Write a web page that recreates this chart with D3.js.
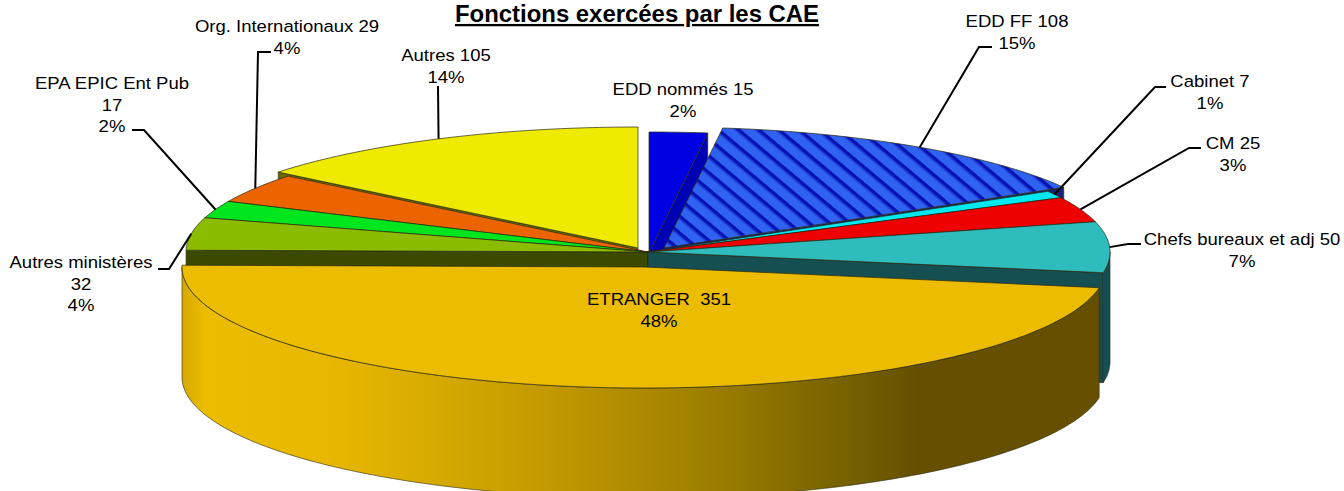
<!DOCTYPE html>
<html>
<head>
<meta charset="utf-8">
<title>Fonctions exercées par les CAE</title>
<script src="https://cdnjs.cloudflare.com/ajax/libs/d3/7.8.5/d3.min.js"></script>
<style>
body { margin:0; background:#fff; }
text { font-family:"Liberation Sans",Arial,sans-serif; fill:#000; white-space:pre; }
</style>
</head>
<body>
<script>
// data, clockwise from the top of the pie
var categories = ["EDD nommés","EDD FF","Cabinet","CM","Chefs bureaux et adj","ETRANGER","Autres ministères","EPA EPIC Ent Pub","Org. Internationaux","Autres"];
var values = [15,108,7,25,50,351,32,17,29,105];
var percents = [2,15,1,3,7,48,4,2,4,14];

// look of the slices
var topColors = ["#0000e2","url(#hatch)","#00e8f0","#ee0000","#2fbcbc","#ecbc00","#8cbc00","#00e61e","#ec6400","#eeea00"];
var faceColors = ["#0000b4","#14246e","#007a80","#800000","#164f52","#6a5200","#3c4a00","#007a10","#803600","#6b6b00"];
var offsetX = [1,16,0,0,0,-4,0,0,0,-10];
var offsetY = [1,-4,0,0,0,15,0,0,0,-4];
var drawOrder = [9,0,1,8,7,6,2,3,4,5];

// label placement: centre x, first baseline, lines, elbow of the leader
var labelLines = [
	["EDD nommés 15","2%"],["EDD FF 108","15%"],["Cabinet 7","1%"],["CM 25","3%"],
	["Chefs bureaux et adj 50","7%"],["ETRANGER  351","48%"],["Autres ministères","32","4%"],
	["EPA EPIC Ent Pub","17","2%"],["Org. Internationaux 29","4%"],["Autres 105","14%"]
];
var labelX = [683,1017,1210,1233,1242,659,81,112,287,446];
var labelY = [95,27,87,149,245,305,268,89,32,61];
var leaders = [
	null,
	[[992,47],[979,47]],
	[[1166,87],[1155,87]],
	[[1201,148],[1189,148]],
	[[1141,244],[1128,244]],
	null,
	[[158,269],[169,269]],
	[[132,130],[144,130]],
	[[271,52],[258,52]],
	[[438,86]]
];

var w = 1344;
var h = 491;
var cx = 648;
var cy = 252;
var rx = 462;
var ry = 121;
var depth = 110;
var lineH = 21.5;

var svg = d3.select("body").append("svg")
	.attr("width",w)
	.attr("height",h)
	.style("display","block");

var defs = svg.append("defs");

var hatch = defs.append("pattern")
	.attr("id","hatch")
	.attr("patternUnits","userSpaceOnUse")
	.attr("width",13)
	.attr("height",13)
	.attr("patternTransform","rotate(40)");
hatch.append("rect").attr("width",13).attr("height",13).attr("fill","#2f62f0");
hatch.append("rect").attr("width",13).attr("height",3).attr("fill","#0612b4");
hatch.append("rect").attr("y",3).attr("width",13).attr("height",1.5).attr("fill","#1a38d0");

var wallGrad = defs.append("linearGradient")
	.attr("id","wall")
	.attr("gradientUnits","userSpaceOnUse")
	.attr("x1",181).attr("x2",1100).attr("y1",0).attr("y2",0);
[[0,"#d4a800"],[0.025,"#ecbc00"],[0.16,"#e8b800"],[0.29,"#d4a800"],[0.39,"#c49a00"],[0.565,"#a08000"],[0.73,"#756000"],[0.8,"#665000"],[1,"#665000"]].forEach(function(s){
	wallGrad.append("stop").attr("offset",s[0]).attr("stop-color",s[1]);
});

var pie = d3.pie().sort(null).value(function(d){ return d; });
var arcs = pie(values);

var line = d3.line();

function rim(i,a,dy){
	return [cx + offsetX[i] + Math.sin(a)*rx, cy + offsetY[i] - Math.cos(a)*ry + (dy||0)];
}
function centre(i,dy){
	return [cx + offsetX[i], cy + offsetY[i] + (dy||0)];
}
function rimPoints(i,a0,a1,dy){
	var n = Math.max(2,Math.ceil((a1-a0)*60));
	return d3.range(n+1).map(function(k){ return rim(i,a0+(a1-a0)*k/n,dy); });
}
// flat face from the centre to the rim at angle a, seen when it looks towards us
function cutFace(i,a){
	return line([centre(i),rim(i,a),rim(i,a,depth),centre(i,depth)]) + "Z";
}

var strokeCol = "#2a2a10";

drawOrder.forEach(function(i){
	var d = arcs[i];
	var g = svg.append("g").attr("class","slice");
	var a0 = d.startAngle, a1 = d.endAngle;

	// cut faces: the left half shows its start edge, the right half its end edge
	if(a1 < Math.PI){
		g.append("path").attr("d",cutFace(i,a1)).attr("fill",faceColors[i]).attr("stroke",strokeCol).attr("stroke-width",0.6);
	}
	if(a0 > Math.PI){
		g.append("path").attr("d",cutFace(i,a0)).attr("fill",faceColors[i]).attr("stroke",strokeCol).attr("stroke-width",0.6);
	}

	// outer wall, only the front half of the rim
	var w0 = Math.max(a0,Math.PI/2), w1 = Math.min(a1,Math.PI*1.5);
	if(w1 > w0){
		var top = rimPoints(i,w0,w1,0);
		var bottom = rimPoints(i,w0,w1,depth).reverse();
		g.append("path")
			.attr("d",line(top.concat(bottom)) + "Z")
			.attr("fill", i == 5 ? "url(#wall)" : faceColors[i])
			.attr("stroke",strokeCol).attr("stroke-width",0.6);
	}

	// top surface
	g.append("path")
		.attr("d",line([centre(i)].concat(rimPoints(i,a0,a1,0))) + "Z")
		.attr("fill",topColors[i])
		.attr("stroke",strokeCol).attr("stroke-width",0.7);
});

// leader lines end on the rim at the middle of the slice
leaders.forEach(function(pts,i){
	if(!pts) return;
	var mid = (arcs[i].startAngle + arcs[i].endAngle)/2;
	svg.append("path")
		.attr("d",line(pts.concat([rim(i,mid)])))
		.attr("fill","none")
		.attr("stroke","#000")
		.attr("stroke-width",2);
});

// labels, the original text is a bit wider than the font
labelLines.forEach(function(lines,i){
	lines.forEach(function(s,k){
		svg.append("text")
			.attr("transform","translate(" + labelX[i] + "," + (labelY[i]+k*lineH) + ") scale(1.09,1)")
			.attr("text-anchor","middle")
			.attr("font-size",17)
			.text(s);
	});
});

svg.append("text")
	.attr("transform","translate(637,22) scale(1.04,1)")
	.attr("text-anchor","middle")
	.attr("font-size",23)
	.attr("font-weight","bold")
	.attr("text-decoration","underline")
	.text("Fonctions exercées par les CAE");
</script>
</body>
</html>
